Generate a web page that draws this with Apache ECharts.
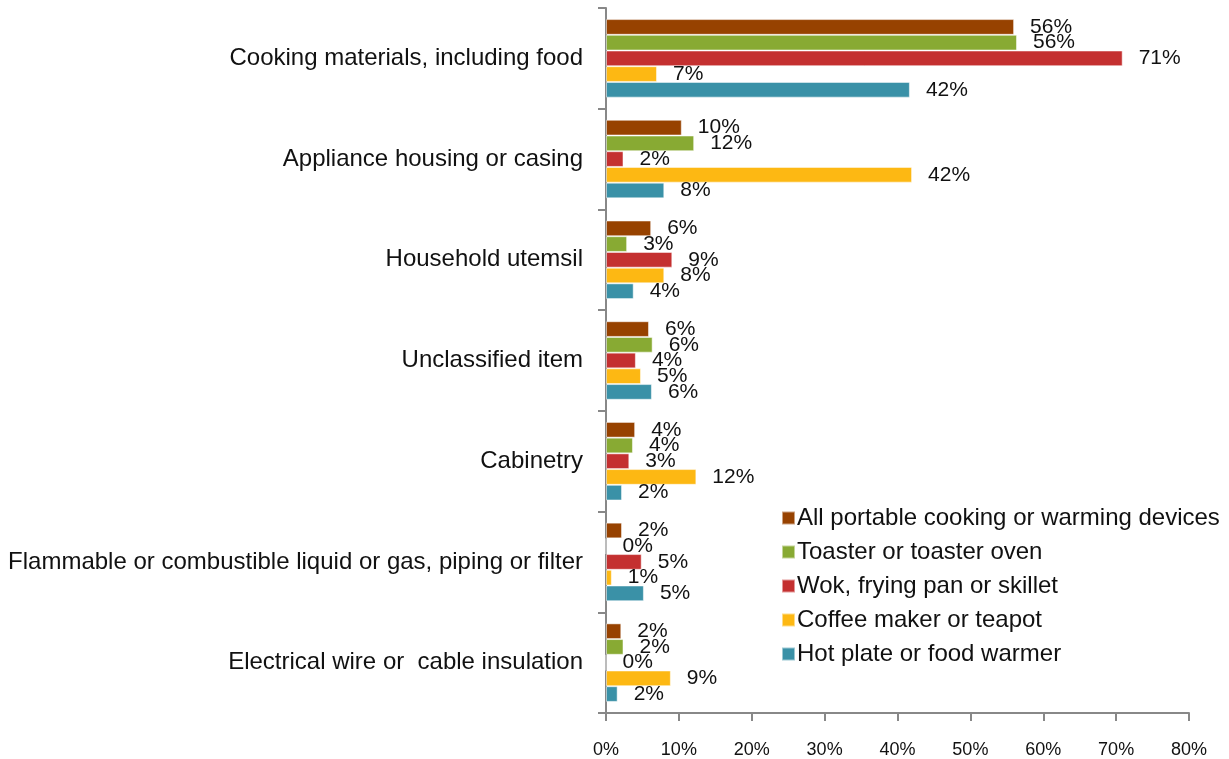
<!DOCTYPE html>
<html>
<head>
<meta charset="utf-8">
<script src="https://cdn.jsdelivr.net/npm/echarts@6/dist/echarts.min.js"></script>
<style>
  html, body { margin: 0; padding: 0; background: #fff; }
  #chart { width: 1229px; height: 759px; }
</style>
</head>
<body>
<div id="chart"></div>
<script>
// Items first ignited, by type of portable cooking device (share of fires)
const categories = [
  'Cooking materials, including food',
  'Appliance housing or casing',
  'Household utemsil',
  'Unclassified item',
  'Cabinetry',
  'Flammable or combustible liquid or gas, piping or filter',
  'Electrical wire or  cable insulation'
];

const seriesNames = [
  'All portable cooking or warming devices',
  'Toaster or toaster oven',
  'Wok, frying pan or skillet',
  'Coffee maker or teapot',
  'Hot plate or food warmer'
];

const allDevices   = [56.0, 10.4, 6.2, 5.9, 4.0, 2.2, 2.1];
const toaster      = [56.4, 12.1, 2.9, 6.4, 3.7, 0.0, 2.4];
const wok          = [70.9, 2.4, 9.1, 4.1, 3.2, 4.9, 0.0];
const coffeeMaker  = [7.0, 42.0, 8.0, 4.8, 12.4, 0.8, 8.9];
const hotPlate     = [41.7, 8.0, 3.8, 6.3, 2.2, 5.2, 1.6];

const xTicks = [0, 10, 20, 30, 40, 50, 60, 70, 80];

const colors = ['#974200', '#88AA33', '#C43030', '#FDB813', '#3A91A7'];
const seriesData = [allDevices, toaster, wok, coffeeMaker, hotPlate];

const chart = echarts.init(document.getElementById('chart'), null, { renderer: 'canvas' });

const fontFamily = '"Liberation Sans", Arial, sans-serif';

chart.setOption({
  animation: false,
  color: colors,
  textStyle: { fontFamily: fontFamily },
  grid: { left: 606, right: 40, top: 8, bottom: 45, containLabel: false },
  xAxis: {
    type: 'value',
    min: xTicks[0],
    max: xTicks[xTicks.length - 1],
    interval: 10,
    splitLine: { show: false },
    axisLine: { show: true, lineStyle: { color: '#888', width: 2 } },
    axisTick: { show: true, length: 8, lineStyle: { color: '#888', width: 2 } },
    axisLabel: {
      margin: 28,
      fontSize: 18,
      color: '#111',
      fontFamily: fontFamily,
      formatter: v => v + '%'
    }
  },
  yAxis: {
    type: 'category',
    data: categories,
    inverse: true,
    axisLine: { show: true, lineStyle: { color: '#888', width: 2 } },
    axisTick: { show: true, length: 8, lineStyle: { color: '#888', width: 2 } },
    axisLabel: {
      margin: 23,
      fontSize: 24,
      color: '#111',
      fontFamily: fontFamily
    }
  },
  legend: {
    orient: 'vertical',
    left: 776,
    top: 501,
    itemWidth: 13,
    itemHeight: 13,
    itemGap: 10,
    icon: 'rect',
    textStyle: { fontSize: 24, color: '#111', fontFamily: fontFamily, padding: [0, 0, 0, -3] },
    data: seriesNames
  },
  series: seriesNames.map((name, i) => ({
    name: name,
    type: 'bar',
    data: seriesData[i],
    barGap: '0%',
    barCategoryGap: '22%',
    itemStyle: { color: colors[i], borderColor: 'rgba(255,255,255,0.5)', borderWidth: 1 },
    label: {
      show: true,
      position: 'right',
      distance: 16,
      fontSize: 21,
      color: '#111',
      fontFamily: fontFamily,
      formatter: p => Math.round(p.value) + '%'
    }
  }))
});
</script>
</body>
</html>
